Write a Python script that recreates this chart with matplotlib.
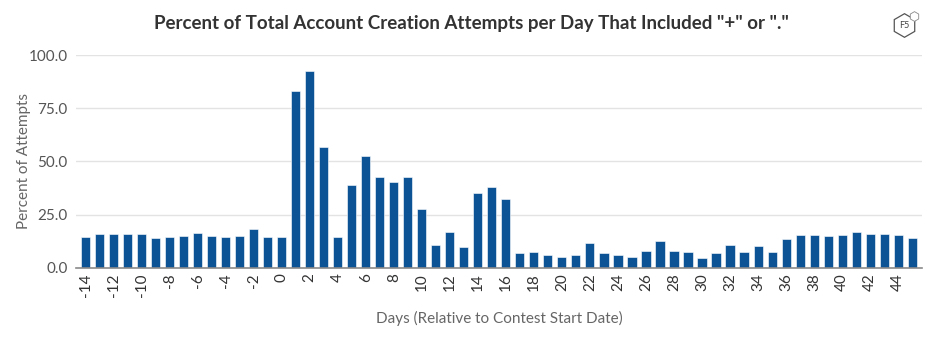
import matplotlib.pyplot as plt
from matplotlib.lines import Line2D

days = list(range(-14, 46))
percent = [
    14.6, 15.7, 15.7, 15.7, 15.7, 13.8, 14.6, 15.1, 16.5, 15.1,
    14.6, 15.1, 18.4, 14.6, 14.6, 83.3, 92.3, 56.7, 14.6, 38.8,
    52.6, 42.6, 40.2, 42.6, 27.6, 10.7, 17.0, 9.9, 35.3, 38.0,
    32.2, 6.8, 7.2, 5.8, 4.9, 5.8, 11.8, 6.8, 5.8, 4.9,
    7.7, 12.6, 7.7, 7.2, 4.4, 6.8, 10.8, 7.2, 10.2, 7.2,
    13.4, 15.2, 15.2, 14.8, 15.2, 16.7, 15.7, 15.7, 15.2, 13.8,
]
tick_days = list(range(-14, 45, 2))
y_ticks = [0, 25, 50, 75, 100]

plt.rcParams['font.family'] = ['Lato', 'DejaVu Sans']

fig = plt.figure(figsize=(9.36, 3.54), dpi=100)
ax = fig.add_axes([0.081, 0.2438, 0.904, 0.6008])

ax.bar(days, percent, width=0.65, color='#0c5396', edgecolor='white', linewidth=0.4, zorder=3)

ax.set_xlim(-14.7, 45.7)
ax.set_ylim(0, 100)
ax.set_yticks(y_ticks)
ax.set_yticklabels([f'{v:.1f}' for v in y_ticks], fontsize=11, color='#555555')
ax.set_xticks(tick_days)
ax.set_xticklabels([str(d) for d in tick_days], rotation=90, fontsize=11, color='#333333')
ax.tick_params(axis='y', length=0, pad=6)
ax.tick_params(axis='x', length=0, pad=4)

ax.grid(axis='y', color='#e3e3e3', linewidth=1, zorder=0)
for side in ['top', 'right', 'left']:
    ax.spines[side].set_visible(False)
ax.spines['bottom'].set_color('#8a8a8a')
ax.spines['bottom'].set_linewidth(1.2)
ax.spines['bottom'].set_zorder(4)

ax.set_ylabel('Percent of Attempts', fontsize=11, color='#666666', labelpad=-2)
ax.set_xlabel('Days (Relative to Contest Start Date)', fontsize=11, color='#666666', labelpad=10)

fig.text(0.504, 0.935, 'Percent of Total Account Creation Attempts per Day That Included "+" or "."',
         ha='center', va='center', fontsize=13.5, fontweight='bold', color='#333333')

# small F5 badge at top right
fig.add_artist(Line2D([0.966], [0.93], transform=fig.transFigure, marker='h', markersize=17,
                      markerfacecolor='white', markeredgecolor='#555555', markeredgewidth=0.9))
fig.add_artist(Line2D([0.976], [0.955], transform=fig.transFigure, marker='h', markersize=7,
                      markerfacecolor='white', markeredgecolor='#888888', markeredgewidth=0.6))
fig.text(0.966, 0.928, 'F5', ha='center', va='center', fontsize=6.5, color='#444444')

fig.savefig('out.png', dpi=100)
